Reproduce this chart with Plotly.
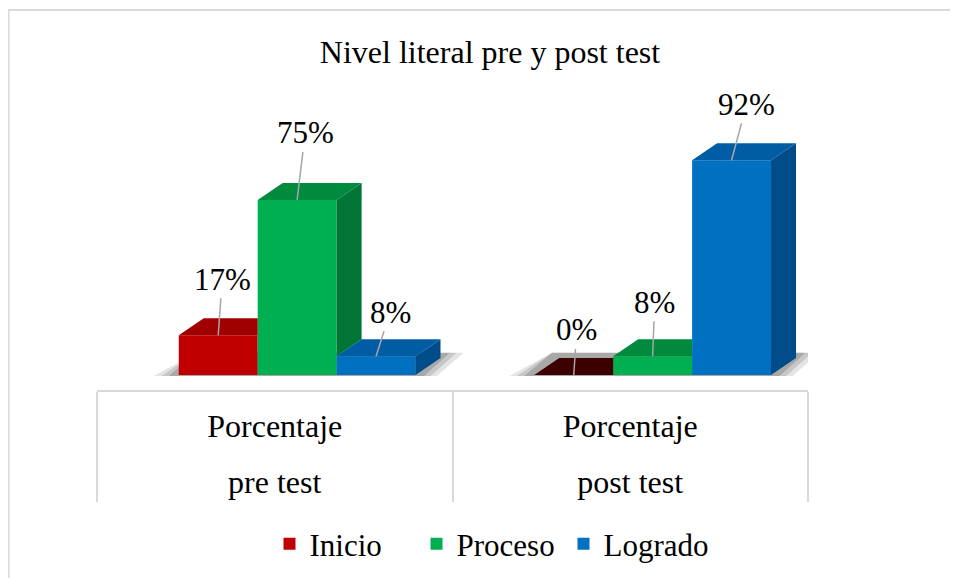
import plotly.graph_objects as go

# ---------------- data ----------------
categories = ["Porcentaje pre test", "Porcentaje post test"]
cat_line1 = ["Porcentaje", "Porcentaje"]
cat_line2 = ["pre test", "post test"]
series = ["Inicio", "Proceso", "Logrado"]
inicio = [17, 0]
proceso = [75, 8]
logrado = [8, 92]
values = [inicio, proceso, logrado]

# ---------------- style ----------------
front_colors = ["#c00000", "#00b050", "#0070c0"]
top_colors = ["#a00000", "#008a3e", "#005ca3"]
side_colors = ["#860000", "#007535", "#004c88"]
zero_top_color = "#3c0000"
FONT = "Liberation Serif"
bar_w = 0.222          # bar width in category units
group_off = 0.063      # shift of the group (3D perspective)
dx = 0.0703            # depth in x (category units)
dy = 7.29              # depth in y (value units)
label_dx = [[4, 3], [8, 2], [14, 15]]
label_dy = [[-56, -45], [-67, -54], [-44, -56]]

W, H = 950, 570  # page adds an 8px body margin

fig = go.Figure()

for j, s in enumerate(series):
    xs = [gi + group_off + (j - 1) * bar_w for gi in range(len(categories))]
    fig.add_trace(go.Bar(
        x=xs, y=values[j], width=bar_w, base=0, name=s,
        marker=dict(color=front_colors[j], line=dict(width=0)),
        hovertext=categories, hoverinfo="name+text+y",
    ))

n = len(series)
for gi in range(len(categories)):
    vals = [values[j][gi] for j in range(n)]
    for j, v in enumerate(vals):
        x0 = gi + group_off + (j - 1.5) * bar_w
        x1 = x0 + bar_w
        h = vals[j + 1] if j + 1 < n else 0
        b = min(h, v)
        if b < v:
            sx = [x1, x1 + dx, x1 + dx, x1, x1]
            sy = [b, b + dy, v + dy, v, b]
            fig.add_trace(go.Scatter(x=sx, y=sy, fill="toself", mode="lines",
                                     line=dict(width=0), fillcolor=side_colors[j],
                                     showlegend=False, hoverinfo="skip"))
        hc = min(max(h, v), v + dy)
        tx = [x0, x1, x1, x1 + (hc - v) / dy * dx, x1 + dx, x0 + dx, x0]
        ty = [v, v, hc, hc, v + dy, v + dy, v]
        fig.add_trace(go.Scatter(x=tx, y=ty, fill="toself", mode="lines",
                                 line=dict(width=0),
                                 fillcolor=zero_top_color if v == 0 else top_colors[j],
                                 showlegend=False, hoverinfo="skip"))

# soft floor shadows (layered, darker close to the bars)
shapes = []
for gi in range(len(categories)):
    xl = gi + group_off - 1.5 * bar_w
    xr = gi + group_off + 1.5 * bar_w
    for s_, a_ in [(1.0, 0.12), (0.7, 0.14), (0.4, 0.18)]:
        path = (f"M {xl-0.07*s_},-0.4 L {xr+0.06*s_},-0.4 "
                f"L {xr+dx+0.065*s_},{dy*1.3} L {xl+0.05},{dy*1.3} Z")
        shapes.append(dict(type="path", path=path, xref="x", yref="y", layer="below",
                           fillcolor=f"rgba(30,30,30,{a_})", line=dict(width=0)))

shapes.append(dict(type="rect", xref="paper", yref="paper", x0=-0.1245, x1=1.6,
                   y0=-1.0, y1=1.2667, line=dict(color="#d9d9d9", width=2),
                   layer="below"))

annotations = []
for j in range(n):
    for gi in range(len(categories)):
        v = values[j][gi]
        annotations.append(dict(
            x=gi + group_off + (j - 1) * bar_w, y=v, xref="x", yref="y",
            text=f"{v}%", showarrow=True, arrowhead=0, arrowwidth=1.5,
            arrowcolor="#a6a6a6", ax=label_dx[j][gi], ay=label_dy[j][gi],
            font=dict(family=FONT, size=31, color="#000000"), standoff=0,
        ))

for ax_name in ["x2", "x3"]:
    fig.add_trace(go.Scatter(x=[0, 1], y=[0, 0], xaxis=ax_name, yaxis="y",
                             mode="markers", marker=dict(opacity=0),
                             showlegend=False, hoverinfo="skip"))

fig.update_layout(
    width=W, height=H,
    font=dict(family=FONT, size=31, color="#000000"),
    paper_bgcolor="white", plot_bgcolor="white",
    margin=dict(l=89, r=150, t=82, b=188),
    barmode="overlay",
    title=dict(text="Nivel literal pre y post test", x=(490 - 8) / W, xanchor="center",
               y=1 - (52 - 8) / H, yanchor="middle", xref="container", yref="container",
               font=dict(family=FONT, size=32, color="#000000")),
    xaxis=dict(range=[-0.5, 1.5], tickvals=[-0.5, 0.5, 1.5], ticks="outside",
               ticklen=110, tickwidth=2, tickcolor="#d9d9d9", showticklabels=False,
               showline=True, linecolor="#d9d9d9", linewidth=2, showgrid=False,
               zeroline=False, fixedrange=True),
    xaxis2=dict(overlaying="x", matches="x", anchor="y", side="bottom",
                tickvals=[0, 1], ticktext=cat_line1, ticks="", showline=False,
                showgrid=False, zeroline=False, ticklabelstandoff=14,
                tickfont=dict(family=FONT, size=32, color="#000000")),
    xaxis3=dict(overlaying="x", matches="x", anchor="y", side="bottom",
                tickvals=[0, 1], ticktext=cat_line2, ticks="", showline=False,
                showgrid=False, zeroline=False, ticklabelstandoff=70,
                tickfont=dict(family=FONT, size=32, color="#000000")),
    yaxis=dict(range=[-6.43, 122.1], showticklabels=False, showgrid=False,
               zeroline=False, showline=False, ticks="", fixedrange=True),
    legend=dict(orientation="h", x=(490 - 8) / W, xanchor="center", y=1 - (544 - 8) / H,
                yanchor="middle", xref="container", yref="container",
                entrywidth=102, entrywidthmode="pixels",
                font=dict(family=FONT, size=31, color="#000000"),
                traceorder="normal", itemclick=False),
    shapes=shapes,
    annotations=annotations,
)

fig.write_html("out.html")
